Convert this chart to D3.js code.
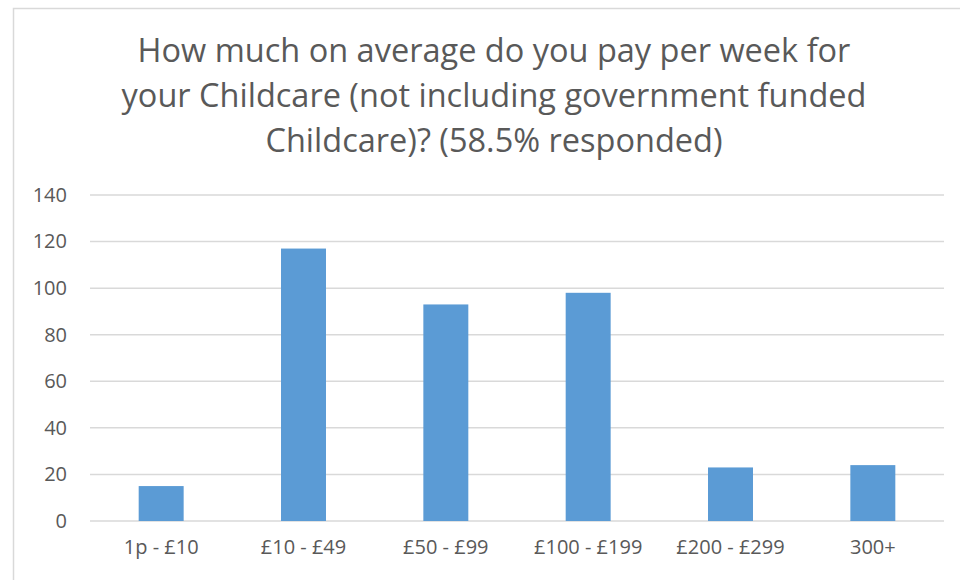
<!DOCTYPE html>
<html><head><meta charset="utf-8">
<script src="https://cdn.jsdelivr.net/npm/d3@7"></script>
<style>body{margin:0;background:#fff}svg{display:block}</style>
</head><body>
<svg id="c" width="960" height="580"></svg>
<script>
const categories = ["1p - £10","£10 - £49","£50 - £99","£100 - £199","£200 - £299","300+"];
const values = [15,117,93,98,23,24];
const yTicks = [0,20,40,60,80,100,120,140];
const titleLines = ["How much on average do you pay per week for","your Childcare (not including government funded","Childcare)? (58.5% responded)"];

(function(){
const svg = d3.select("#c");
const font = "'Open Sans', sans-serif";
const pLeft = 90, pRight = 944, pTop = 195, pBottom = 521;

svg.append("rect").attr("x",13.5).attr("y",8.5).attr("width",960).attr("height",600)
  .attr("fill","#fff").attr("stroke","#d9d9d9").attr("stroke-width",1.5);

const x = d3.scaleBand().domain(categories).range([pLeft,pRight]).paddingInner(0.684).paddingOuter(0.342);
const y = d3.scaleLinear().domain([0,140]).range([pBottom,pTop]);

svg.append("g").selectAll("line").data(yTicks).enter().append("line")
  .attr("x1",pLeft).attr("x2",pRight).attr("y1",d=>y(d)).attr("y2",d=>y(d))
  .attr("stroke","#d9d9d9").attr("stroke-width",1.5);

const yAxis = d3.axisLeft(y).tickValues(yTicks).tickSize(0).tickPadding(0);
const ya = svg.append("g").attr("transform","translate(67,0)").call(yAxis);
ya.select(".domain").remove();
ya.selectAll("text").attr("fill","#595959").style("font-family",font).style("font-size","20px");

svg.append("g").selectAll("rect").data(values).enter().append("rect")
  .attr("x",(d,i)=>x(categories[i])).attr("width",x.bandwidth())
  .attr("y",d=>y(d)).attr("height",d=>y(0)-y(d)).attr("fill","#5b9bd5");

const xAxis = d3.axisBottom(x).tickSize(0).tickPadding(0);
const xa = svg.append("g").attr("transform",`translate(0,${pBottom+19})`).call(xAxis);
xa.select(".domain").remove();
xa.selectAll("text").attr("fill","#595959").style("font-family",font).style("font-size","20px");

svg.append("g").selectAll("text").data(titleLines).enter().append("text")
  .attr("x",494).attr("y",(d,i)=>62+i*45).attr("text-anchor","middle")
  .attr("fill","#595959").style("font-family",font).style("font-size","32.5px").text(d=>d);
})();
</script>
</body></html>
